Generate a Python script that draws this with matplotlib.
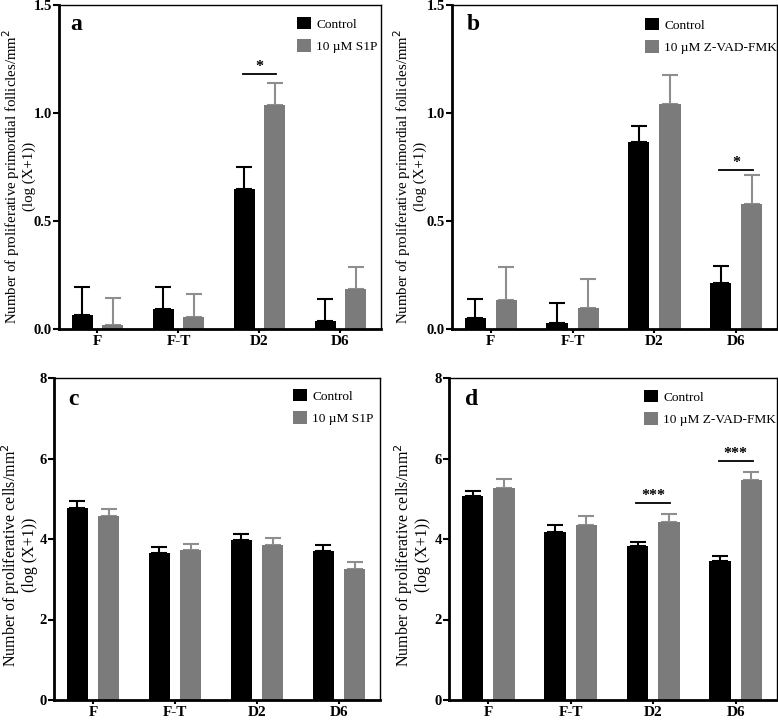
"""Proliferation bar charts: S1P and Z-VAD-FMK vs control."""
import matplotlib
matplotlib.use("Agg")
import matplotlib.pyplot as plt
import numpy as np

plt.rcParams["font.family"] = ["Liberation Serif", "DejaVu Serif"]

categories = ["F", "F-T", "D2", "D6"]

# panel a: primordial follicles, S1P
a_ctrl = [0.066, 0.091, 0.648, 0.036]
a_ctrl_err = [0.127, 0.105, 0.104, 0.103]
a_trt = [0.017, 0.057, 1.038, 0.184]
a_trt_err = [0.125, 0.104, 0.103, 0.104]

# panel b: primordial follicles, Z-VAD-FMK
b_ctrl = [0.053, 0.026, 0.866, 0.215]
b_ctrl_err = [0.088, 0.096, 0.076, 0.077]
b_trt = [0.135, 0.097, 1.042, 0.580]
b_trt_err = [0.151, 0.133, 0.132, 0.131]

# panel c: proliferative cells, S1P
c_ctrl = [4.77, 3.64, 3.97, 3.69]
c_ctrl_err = [0.18, 0.15, 0.16, 0.15]
c_trt = [4.56, 3.72, 3.86, 3.26]
c_trt_err = [0.19, 0.16, 0.16, 0.16]

# panel d: proliferative cells, Z-VAD-FMK
d_ctrl = [5.06, 4.18, 3.82, 3.46]
d_ctrl_err = [0.13, 0.17, 0.11, 0.11]
d_trt = [5.27, 4.35, 4.41, 5.47]
d_trt_err = [0.23, 0.21, 0.20, 0.20]

panels = [
    ("a", "10 µM S1P", a_ctrl, a_ctrl_err, a_trt, a_trt_err,
     [(2, 1.181, "*")], "primordial follicles"),
    ("b", "10 µM Z-VAD-FMK", b_ctrl, b_ctrl_err, b_trt, b_trt_err,
     [(3, 0.738, "*")], "primordial follicles"),
    ("c", "10 µM S1P", c_ctrl, c_ctrl_err, c_trt, c_trt_err,
     [], "cells"),
    ("d", "10 µM Z-VAD-FMK", d_ctrl, d_ctrl_err, d_trt, d_trt_err,
     [(2, 4.89, "***"), (3, 5.95, "***")], "cells"),
]

GRAY = "#7b7b7b"
GRAY_ERR = "#8e8e8e"

fig = plt.figure(figsize=(7.78, 7.21), dpi=100)
W, H = 778, 721
boxes = [(59, 5, 381, 329), (452, 5, 777, 329), (54, 378, 380, 700), (449, 378, 777, 700)]
letter_pos = [(0.034, 0.923), (0.046, 0.923), (0.043, 0.915), (0.049, 0.915)]
ylabel_pos = [(-0.128, 0.47), (-0.131, 0.47), (-0.109, 0.45), (-0.114, 0.45)]
legend_pos = [(0.739, 0.963), (0.594, 0.96), (0.733, 0.966), (0.595, 0.963)]

x = np.arange(len(categories))
bw = 0.26
off = 0.19
for (label, trt_name, ctrl, ctrl_err, trt, trt_err, sigs, what), (l, t, r, b), lp, yp, gp in zip(
        panels, boxes, letter_pos, ylabel_pos, legend_pos):
    ax = fig.add_axes([l / W, 1 - b / H, (r - l) / W, (b - t) / H])
    ax.bar(x - off, ctrl, bw, color="black", label="Control", zorder=2)
    ax.bar(x + off, trt, bw, color=GRAY, label=trt_name, zorder=2)
    ax.errorbar(x - off, ctrl, yerr=[np.zeros(4), ctrl_err], fmt="none",
                ecolor="black", elinewidth=1.5, capsize=6, capthick=1.5, zorder=1)
    ax.errorbar(x + off, trt, yerr=[np.zeros(4), trt_err], fmt="none",
                ecolor=GRAY_ERR, elinewidth=1.5, capsize=6, capthick=1.5, zorder=1)

    if what == "cells":
        ymax, yticks, fmt, lab_fs = 8, [0, 2, 4, 6, 8], "{:.0f}", 11.5
    else:
        ymax, yticks, fmt, lab_fs = 1.5, [0, 0.5, 1.0, 1.5], "{:.1f}", 10.7
    ax.set_ylim(0, ymax)
    ax.set_xlim(-0.475, 3.5)
    ax.set_yticks(yticks)
    ax.set_yticklabels([fmt.format(v) for v in yticks], fontweight="bold", fontsize=10.5)
    ax.set_xticks(x)
    ax.set_xticklabels(categories, fontweight="bold", fontsize=11)
    ax.tick_params(axis="y", direction="out", length=4, width=1.5, pad=1)
    ax.tick_params(axis="x", direction="out", length=3, width=1.5, pad=1)
    for s in ["left", "bottom"]:
        ax.spines[s].set_linewidth(2)
    for s in ["top", "right"]:
        ax.spines[s].set_linewidth(1)

    ax.set_ylabel(f"Number of proliferative {what}/mm$^2$\n(log (X+1))", fontsize=lab_fs,
                  linespacing=1.05, va="center")
    ax.yaxis.set_label_coords(*yp)
    ax.text(lp[0], lp[1], label, transform=ax.transAxes, fontsize=17,
            fontweight="bold", va="baseline", ha="left")
    ax.legend(loc="upper left", bbox_to_anchor=gp, frameon=False, fontsize=9.6,
              handlelength=1.05, handleheight=1.05, handletextpad=0.4,
              labelspacing=0.65, borderpad=0, borderaxespad=0)

    for gi, yy, star in sigs:
        ax.plot([gi - 0.205, gi + 0.205], [yy, yy], color="black", lw=1.3)
        ax.text(gi, yy - ymax * 0.004, star, ha="center", va="bottom",
                fontsize=11.5, fontweight="bold")

fig.savefig("out.png", dpi=100)
plt.close(fig)
print("Saved: out.png")
